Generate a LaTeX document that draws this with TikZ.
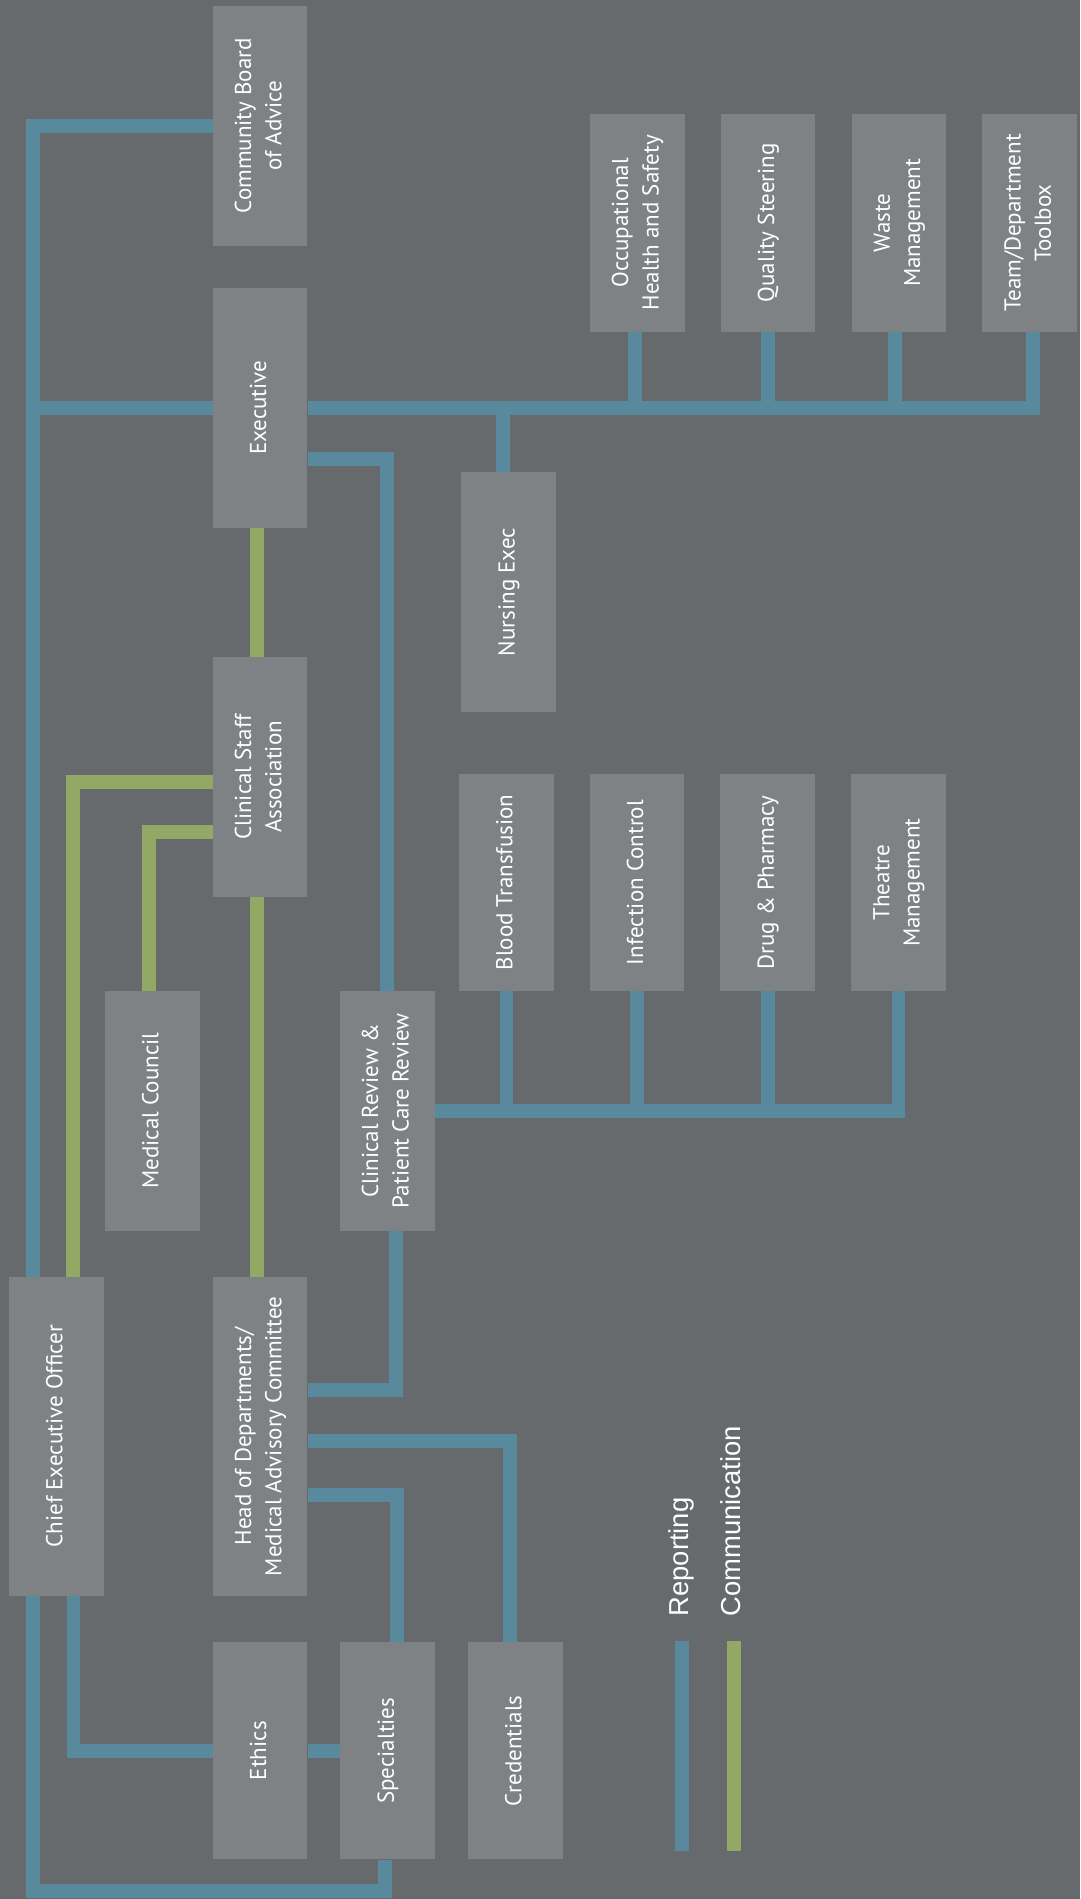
\documentclass[tikz,border=0pt]{standalone}
\usepackage{fontspec}
\usepackage{graphicx}
\usetikzlibrary{positioning}
\newfontfamily\panelfont{PT Sans}
\newfontfamily\legendfont{Liberation Sans}
\definecolor{canvasgrey}{RGB}{103,106,109}
\definecolor{panelgrey}{RGB}{127,130,133}
\definecolor{reportblue}{RGB}{89,137,156}
\definecolor{commgreen}{RGB}{148,168,102}
\newcommand{\uptext}[1]{\rotatebox{90}{\begin{tabular}{@{}c@{}}#1\end{tabular}}}

\begin{document}
\begin{tikzpicture}[
    x=1pt, y=-1pt,
    panel/.style={fill=panelgrey, text=white, inner sep=0pt, minimum width=94.7pt,
        minimum height=239.7pt, font=\panelfont\fontsize{23}{30.3}\selectfont},
    panelshort/.style={panel, minimum height=217.5pt},
    panellong/.style={panel, minimum height=318.6pt},
    report/.style={draw=reportblue, line width=13.8pt},
    comm/.style={draw=commgreen, line width=14pt},
    key/.style={text=white, inner sep=0pt, rotate=90, anchor=base west,
        font=\legendfont\fontsize{27.4}{33}\selectfont}
]
\fill[canvasgrey] (0,0) rectangle (1080,1899);
\useasboundingbox (0,0) rectangle (1080,1899);
\coordinate (spine) at (32.7,0);
\coordinate (floor) at (0,1891);
% board and executive
\node[panel] (board) at (260.1,125.7) {\uptext{Community Board\\of Advice}};
\node[panel] (exec) at (260.1,407.7) {\uptext{Executive}};
\node[panelshort] (ohs) at (637.3,222.8) {\uptext{Occupational\\Health and Safety}};
\node[panelshort, right=35.7pt of ohs] (quality) {\uptext{Quality Steering}};
\node[panelshort, right=35.7pt of quality] (waste) {\uptext{Waste\\Management}};
\node[panelshort, right=35.7pt of waste] (toolbox) {\uptext{Team/Department\\Toolbox}};
\node[panel] (nursing) at (508.5,592) {\uptext{Nursing Exec}};
% clinical staff and reviews
\node[panel] (staff) at (260.1,776.9) {\uptext{Clinical Staff\\Association}};
\node[panelshort] (blood) at (506.4,882.5) {\uptext{Blood Transfusion}};
\node[panelshort, right=35.6pt of blood] (infection) {\uptext{Infection Control}};
\node[panelshort, right=35.6pt of infection] (pharmacy) {\uptext{Drug \& Pharmacy}};
\node[panelshort, right=35.6pt of pharmacy] (theatre) {\uptext{Theatre\\Management}};
\node[panel] (council) at (152.4,1110.7) {\uptext{Medical Council}};
\node[panel] (review) at (387.3,1110.7) {\uptext{Clinical Review \&\\Patient Care Review}};
% officers and committees
\node[panellong] (ceo) at (56.4,1436.3) {\uptext{Chief Executive Officer}};
\node[panellong] (heads) at (260.1,1436.3) {\uptext{Head of Departments/\\Medical Advisory Committee}};
\node[panelshort] (ethics) at (260.1,1750.7) {\uptext{Ethics}};
\node[panelshort, right=32.5pt of ethics] (special) {\uptext{Specialties}};
\node[panelshort, right=32.5pt of special] (creds) {\uptext{Credentials}};
% reporting lines
\draw[report] (board.west) -| (ceo.north -| spine);
\draw[report] (exec.west) -- (exec.west -| spine);
\draw[report] (exec.east) -| ([xshift=3.5pt]toolbox.south);
\draw[report] ([xshift=-2pt]ohs.south) -- ([xshift=-2pt]ohs.south |- exec.east);
\draw[report] (quality.south) -- (quality.south |- exec.east);
\draw[report] ([xshift=-4pt]waste.south) -- ([xshift=-4pt]waste.south |- exec.east);
\draw[report] ([xshift=-5.5pt]nursing.north) -- ([xshift=-5.5pt]nursing.north |- exec.east);
\draw[report] ([yshift=-51pt]exec.east) -| (review.north);
\draw[report] (review.east) -| (theatre.south);
\draw[report] (blood.south) -- (blood.south |- review.east);
\draw[report] (infection.south) -- (infection.south |- review.east);
\draw[report] (pharmacy.south) -- (pharmacy.south |- review.east);
\draw[report] ([xshift=9pt]review.south) |- ([yshift=46pt]heads.east);
\draw[report] ([yshift=-5pt]heads.east) -| ([xshift=-5pt]creds.north);
\draw[report] ([yshift=-59pt]heads.east) -| ([xshift=9pt]special.north);
\draw[report] ([xshift=17pt]ceo.south) |- (ethics.west);
\draw[report] (ethics.east) -- (special.west);
\draw[report] (ceo.south -| spine) |- ([xshift=-3pt]floor -| special.south) -- ([xshift=-3pt]special.south);
% communication lines
\draw[comm] ([xshift=-3.4pt]exec.south) -- ([xshift=-3.4pt]staff.north);
\draw[comm] ([xshift=-3.4pt]staff.south) -- ([xshift=-3.4pt]heads.north);
\draw[comm] ([yshift=-5pt]staff.west) -| ([xshift=17pt]ceo.north);
\draw[comm] ([yshift=-55pt]staff.west) -| ([xshift=-3pt]council.north);
% legend
\node[key] (replabel) at (688.5,1616.6) {Reporting};
\node[key] (commlabel) at (740,1616.6) {Communication};
\coordinate (repbar) at (682,1641);
\coordinate (commbar) at (734,1641);
\draw[report] (repbar) -- ++(0,210);
\draw[comm] (commbar) -- ++(0,210);
\end{tikzpicture}
\end{document}
